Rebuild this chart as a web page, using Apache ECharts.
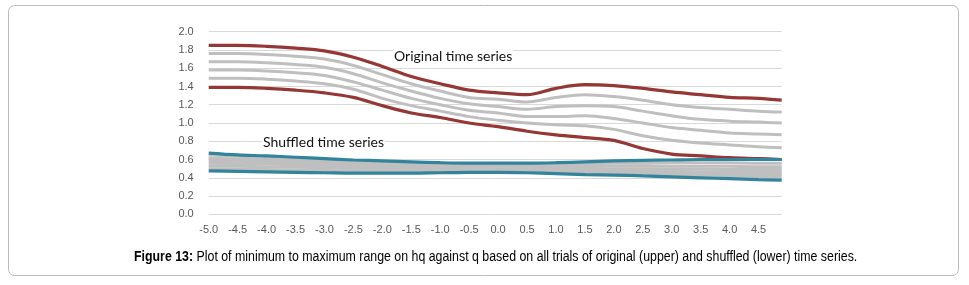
<!DOCTYPE html>
<html>
<head>
<meta charset="utf-8">
<script src="https://cdn.jsdelivr.net/npm/echarts@6/dist/echarts.min.js"></script>
<style>
html,body{margin:0;padding:0;background:#fff;}
#chart{width:969px;height:285px;}
</style>
</head>
<body>
<div id="chart"></div>
<script>
// q values (x)
var q = [-5.0,-4.5,-4.0,-3.5,-3.0,-2.5,-2.0,-1.5,-1.0,-0.5,0.0,0.5,1.0,1.5,2.0,2.5,3.0,3.5,4.0,4.5,4.9];
// x-axis tick labels
var xTicks = ['-5.0','-4.5','-4.0','-3.5','-3.0','-2.5','-2.0','-1.5','-1.0','-0.5','0.0','0.5','1.0','1.5','2.0','2.5','3.0','3.5','4.0','4.5'];

// Original time series: max / min envelopes and intermediate trials
var origMax = [1.85,1.85,1.84,1.82,1.79,1.72,1.62,1.51,1.43,1.36,1.33,1.31,1.38,1.42,1.41,1.38,1.34,1.31,1.28,1.27,1.25];
var origG1  = [1.76,1.76,1.75,1.73,1.70,1.63,1.53,1.43,1.35,1.28,1.26,1.23,1.28,1.31,1.29,1.25,1.20,1.17,1.15,1.13,1.12];
var origG2  = [1.67,1.67,1.66,1.64,1.61,1.54,1.44,1.35,1.27,1.21,1.18,1.15,1.18,1.19,1.18,1.13,1.08,1.04,1.02,1.01,1.00];
var origG3  = [1.58,1.58,1.57,1.55,1.52,1.45,1.36,1.27,1.20,1.14,1.11,1.07,1.07,1.08,1.05,1.00,0.95,0.92,0.89,0.88,0.87];
var origG4  = [1.49,1.49,1.48,1.46,1.43,1.37,1.27,1.19,1.13,1.07,1.03,1.00,0.98,0.97,0.93,0.86,0.81,0.78,0.76,0.74,0.73];
var origMin = [1.39,1.39,1.38,1.36,1.33,1.28,1.19,1.11,1.06,1.00,0.96,0.91,0.87,0.84,0.81,0.72,0.66,0.64,0.62,0.61,0.60];

// Shuffled time series
var shufMax = [0.67,0.65,0.64,0.625,0.61,0.595,0.585,0.575,0.565,0.56,0.56,0.56,0.565,0.575,0.585,0.59,0.595,0.60,0.60,0.60,0.60];
var shufG1  = [0.65,0.635,0.62,0.605,0.59,0.58,0.57,0.56,0.555,0.55,0.55,0.55,0.55,0.555,0.56,0.56,0.565,0.565,0.565,0.56,0.56];
var shufG2  = [0.615,0.605,0.595,0.585,0.575,0.565,0.555,0.545,0.54,0.535,0.53,0.53,0.53,0.53,0.53,0.53,0.525,0.525,0.525,0.52,0.52];
var shufG3  = [0.59,0.58,0.57,0.56,0.55,0.54,0.53,0.525,0.52,0.515,0.51,0.51,0.505,0.505,0.50,0.50,0.495,0.495,0.49,0.49,0.49];
var shufG4  = [0.56,0.555,0.55,0.54,0.53,0.52,0.51,0.505,0.50,0.495,0.49,0.49,0.485,0.48,0.475,0.47,0.47,0.465,0.465,0.46,0.46];
var shufG5  = [0.53,0.525,0.52,0.515,0.51,0.50,0.495,0.49,0.485,0.48,0.475,0.47,0.465,0.46,0.455,0.45,0.445,0.44,0.44,0.435,0.435];
var shufG6  = [0.50,0.495,0.49,0.485,0.48,0.475,0.47,0.47,0.47,0.47,0.47,0.465,0.455,0.45,0.445,0.435,0.43,0.425,0.42,0.415,0.41];
var shufMin = [0.475,0.47,0.465,0.46,0.455,0.45,0.45,0.45,0.455,0.46,0.46,0.455,0.445,0.435,0.43,0.42,0.41,0.40,0.39,0.38,0.375];

var RED = '#953735', GRAY = '#BFBFBF', TEAL = '#31849B';

function pairs(arr){ return arr.map(function(v,i){ return [q[i], v]; }); }
function line(name, arr, color){
  return {
    name: name, type: 'line', data: pairs(arr), smooth: 0.35, symbol: 'none',
    lineStyle: {color: color, width: color === GRAY ? 3 : 3.2}, z: color === GRAY ? 2 : 3, silent: true
  };
}

var chart = echarts.init(document.getElementById('chart'), null, {renderer: 'canvas'});
chart.setOption({
  animation: false,
  backgroundColor: '#fff',
  grid: {left: 208.7, right: 187.3, top: 31.7, bottom: 70.7},
  xAxis: {
    type: 'value', min: -5, max: 4.9, interval: 0.5,
    axisLine: {show: false}, axisTick: {show: false}, splitLine: {show: false},
    axisLabel: {
      showMaxLabel: false, margin: 10, color: '#595959', fontSize: 11, fontFamily: 'Liberation Sans',
      formatter: function(v){ var s = v.toFixed(1); return xTicks.indexOf(s) >= 0 ? s : ''; }
    }
  },
  yAxis: {
    type: 'value', min: 0, max: 2, interval: 0.2,
    axisLine: {show: false}, axisTick: {show: false},
    splitLine: {lineStyle: {color: '#D9D9D9', width: 1}},
    axisLabel: {margin: 15, color: '#595959', fontSize: 11, fontFamily: 'Liberation Sans',
      formatter: function(v){ return v.toFixed(1); }}
  },
  graphic: [
    {type: 'rect', shape: {x: 8.5, y: 5.5, width: 950, height: 270, r: 6},
     style: {fill: 'none', stroke: '#BBBBBB', lineWidth: 1}, z: -1},
    {type: 'text', x: 393, y: 49, z: 10, style: {text: 'Original time series', fontFamily: 'Lato', fontSize: 14, fill: '#111',
      align: 'left', verticalAlign: 'top', backgroundColor: '#fff', padding: [0, 1]}},
    {type: 'text', x: 262, y: 135, z: 10, style: {text: 'Shuffled time series', fontFamily: 'Lato', fontSize: 14, fill: '#111',
      align: 'left', verticalAlign: 'top', backgroundColor: '#fff', padding: [0, 1]}},
    {type: 'text', x: 134, y: 250, scaleX: 0.883, style: {
      align: 'left', verticalAlign: 'top',
      rich: {
        b: {fontFamily: 'Liberation Sans', fontWeight: 'bold', fontSize: 14, fill: '#000'},
        n: {fontFamily: 'Liberation Sans', fontSize: 14, fill: '#000'}
      },
      text: '{b|Figure 13:}{n| Plot of minimum to maximum range on hq against q based on all trials of original (upper) and shuffled (lower) time series.}'
    }}
  ],
  series: [
    line('orig trial 1', origG1, GRAY),
    line('orig trial 2', origG2, GRAY),
    line('orig trial 3', origG3, GRAY),
    line('orig trial 4', origG4, GRAY),
    line('shuf trial 1', shufG1, GRAY),
    line('shuf trial 2', shufG2, GRAY),
    line('shuf trial 3', shufG3, GRAY),
    line('shuf trial 4', shufG4, GRAY),
    line('shuf trial 5', shufG5, GRAY),
    line('shuf trial 6', shufG6, GRAY),
    line('original max', origMax, RED),
    line('original min', origMin, RED),
    line('shuffled max', shufMax, TEAL),
    line('shuffled min', shufMin, TEAL)
  ]
});
</script>
</body>
</html>
